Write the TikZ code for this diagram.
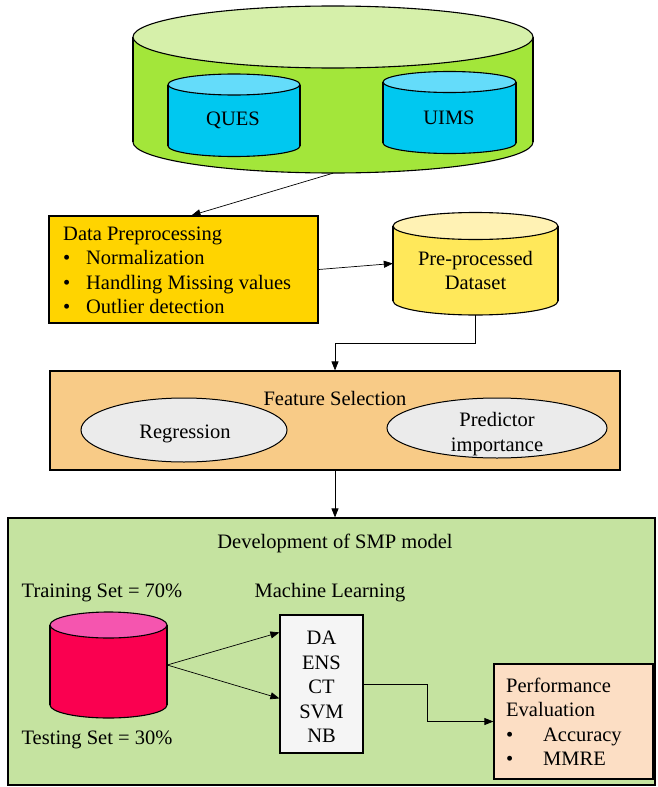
\documentclass[tikz,border=0pt]{standalone}
\usepackage{fontspec}
\setmainfont{Liberation Serif}
\usetikzlibrary{shapes.geometric,arrows.meta}
\definecolor{bigtop}{RGB}{214,240,170}
\definecolor{bigbody}{RGB}{163,230,58}
\definecolor{cyantop}{RGB}{100,220,250}
\definecolor{cyanbody}{RGB}{0,200,240}
\definecolor{prepfill}{RGB}{255,212,0}
\definecolor{dstop}{RGB}{255,242,180}
\definecolor{dsbody}{RGB}{255,232,90}
\definecolor{fsfill}{RGB}{248,203,135}
\definecolor{ovalfill}{RGB}{235,235,235}
\definecolor{smpfill}{RGB}{197,227,160}
\definecolor{pinktop}{RGB}{245,85,175}
\definecolor{pinkbody}{RGB}{250,0,80}
\definecolor{mlfill}{RGB}{245,245,245}
\definecolor{perffill}{RGB}{252,222,196}
\begin{document}
\begin{tikzpicture}[x=1pt,y=-1pt,
  every node/.style={font=\fontsize{20.5}{24.5}\selectfont,inner sep=0pt},
  box/.style={draw,line width=1.2pt},
  oval/.style={ellipse,draw,line width=1pt,fill=ovalfill},
  cyl/.style={line width=1.1pt},
  conn/.style={line width=0.7pt},
  arr/.style={line width=0.7pt,-{Triangle[length=9pt,width=7pt]}}]
\useasboundingbox (0,0) rectangle (657,787);
% data sources
\draw[cyl,fill=bigbody] (333,142) ellipse [x radius=200pt,y radius=31pt];
\fill[bigbody] (133,37) rectangle (533,142);
\draw[cyl] (133,37) -- (133,142) (533,37) -- (533,142);
\draw[cyl,fill=bigtop] (333,37) ellipse [x radius=200pt,y radius=31pt];
\node[minimum width=400pt,minimum height=167pt] (bigdb) at (333,89.5) {};
\draw[cyl,fill=cyanbody] (234,146) ellipse [x radius=66pt,y radius=10.5pt];
\fill[cyanbody] (168,84.5) rectangle (300,146);
\draw[cyl] (168,84.5) -- (168,146) (300,84.5) -- (300,146);
\draw[cyl,fill=cyantop] (234,84.5) ellipse [x radius=66pt,y radius=10.5pt];
\node (ques) at (233,120) {QUES};
\draw[cyl,fill=cyanbody] (449.5,143) ellipse [x radius=66.5pt,y radius=10.5pt];
\fill[cyanbody] (383,82) rectangle (516,143);
\draw[cyl] (383,82) -- (383,143) (516,82) -- (516,143);
\draw[cyl,fill=cyantop] (449.5,82) ellipse [x radius=66.5pt,y radius=10.5pt];
\node (uims) at (449,118) {UIMS};
% preprocessing
\node[box,fill=prepfill,minimum width=269pt,minimum height=107pt] (prep) at (183.5,269.5) {};
\node[anchor=west,align=left] (preptext) at (63,270.5) {Data Preprocessing\\
  \makebox[23pt][l]{\textbullet}Normalization\\
  \makebox[23pt][l]{\textbullet}Handling Missing values\\
  \makebox[23pt][l]{\textbullet}Outlier detection};
\draw[cyl,fill=dsbody] (475.5,301) ellipse [x radius=82.5pt,y radius=14pt];
\fill[dsbody] (393,226) rectangle (558,301);
\draw[cyl] (393,226) -- (393,301) (558,226) -- (558,301);
\draw[cyl,fill=dstop] (475.5,226) ellipse [x radius=82.5pt,y radius=13.5pt];
\node[minimum width=165pt,minimum height=103pt] (ppdata) at (475.5,263.5) {};
\node[align=center] (pptext) at (475.5,270.5) {Pre-processed\\Dataset};
% feature selection
\node[box,fill=fsfill,minimum width=570pt,minimum height=99pt] (fsel) at (335,420.5) {};
\node (fstitle) at (335,398) {Feature Selection};
\node[oval,minimum width=206pt,minimum height=64pt] (regr) at (184,430) {};
\node (regrtext) at (185,434) {Regression};
\node[oval,minimum width=220pt,minimum height=60pt] (predimp) at (497,428) {};
\node[align=center] (predtext) at (497,434) {Predictor\\importance};
% SMP model
\node[box,fill=smpfill,minimum width=647pt,minimum height=267pt] (smp) at (331.5,651.5) {};
\node (smptitle) at (335,543) {Development of SMP model};
\node (train) at (102,593) {Training Set = 70\%};
\node (test) at (97,740) {Testing Set = 30\%};
\node (mltitle) at (330,593) {Machine Learning};
\draw[cyl,fill=pinkbody] (108.5,705) ellipse [x radius=58.5pt,y radius=13pt];
\fill[pinkbody] (50,625) rectangle (167,705);
\draw[cyl] (50,625) -- (50,705) (167,625) -- (167,705);
\draw[cyl,fill=pinktop] (108.5,625) ellipse [x radius=58.5pt,y radius=13pt];
\node[minimum width=117pt,minimum height=106pt] (splitdb) at (108.5,665) {};
\node[box,fill=mlfill,minimum width=83pt,minimum height=138pt] (mlbox) at (321.5,684) {};
\node[align=center] (mltext) at (321.5,687) {DA\\ENS\\CT\\SVM\\NB};
\node[box,fill=perffill,minimum width=159pt,minimum height=115pt] (perf) at (573.5,721.5) {};
\node[anchor=west,align=left] (perftext) at (506,722) {Performance\\Evaluation\\
  \makebox[37pt][l]{\textbullet}Accuracy\\
  \makebox[37pt][l]{\textbullet}MMRE};
% connectors
\draw[arr] (bigdb.south) -- ([xshift=8pt]prep.north);
\draw[arr] (prep.east) -- (ppdata.west);
\draw[arr] (ppdata.south) -- ++(0,28) -| (fsel.north);
\draw[arr] (fsel.south) -- (fsel.south |- smp.north);
\draw[arr] (splitdb.east) -- ([yshift=-18pt]mlbox.north west);
\draw[arr] (splitdb.east) -- ([yshift=-84pt]mlbox.north west);
\draw[arr] (mlbox.east) -- ++(64,0) |- (perf.west);
\end{tikzpicture}
\end{document}
